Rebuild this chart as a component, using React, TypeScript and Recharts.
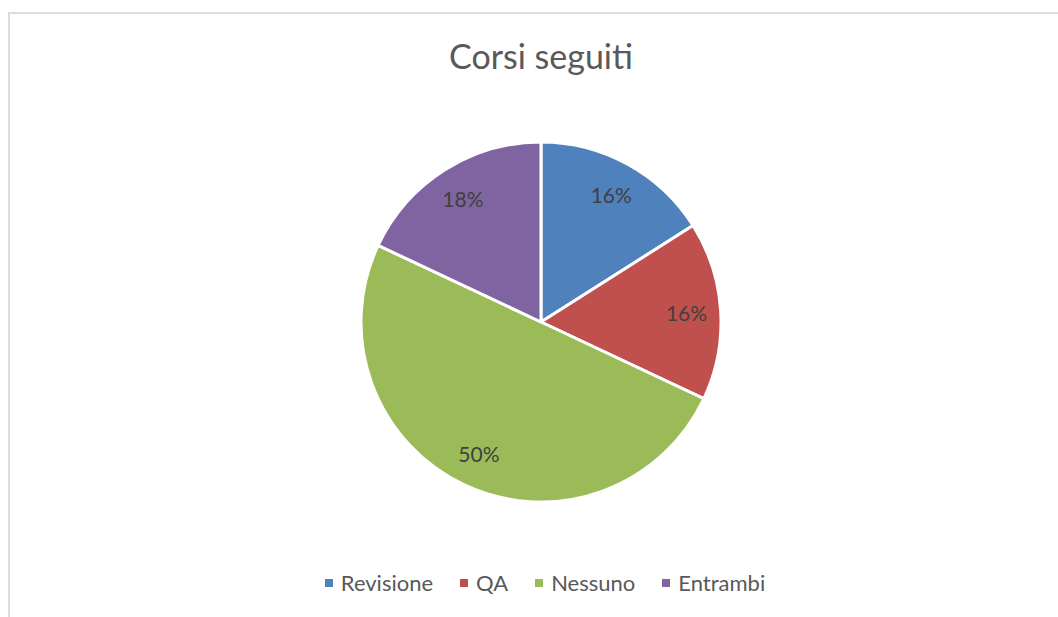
import { Cell, Legend, Pie, PieChart } from "recharts";

const categories = ["Revisione", "QA", "Nessuno", "Entrambi"];
const shares = [16, 16, 50, 18];
const colors = ["#4F81BD", "#C0504D", "#9BBB59", "#8064A2"];

const data = categories.map((name, i) => ({ name, value: shares[i] }));

const FONT = "Lato, 'Open Sans', sans-serif";
const RAD = Math.PI / 180;

function renderLabel(props: any) {
  const { cx, cy, midAngle, outerRadius, percent } = props;
  const r = outerRadius * 0.81;
  const x = cx + r * Math.cos(-midAngle * RAD);
  const y = cy + r * Math.sin(-midAngle * RAD);
  return (
    <text
      x={x}
      y={y}
      fill="#404040"
      fontSize={21}
      fontFamily={FONT}
      textAnchor="middle"
      dominantBaseline="central"
    >
      {`${Math.round(percent * 100)}%`}
    </text>
  );
}

function LegendContent() {
  return (
    <div
      style={{
        display: "flex",
        justifyContent: "center",
        alignItems: "center",
        gap: 27,
        fontFamily: FONT,
        fontSize: 22,
        color: "#595959",
      }}
    >
      {categories.map((c, i) => (
        <div key={c} style={{ display: "flex", alignItems: "center" }}>
          <span
            style={{
              width: 8,
              height: 8,
              background: colors[i],
              display: "inline-block",
              marginRight: 8,
            }}
          />
          <span>{c}</span>
        </div>
      ))}
    </div>
  );
}

export default function App() {
  return (
    <div
      style={{
        position: "absolute",
        left: 0,
        top: 0,
        width: 1058,
        height: 617,
        overflow: "hidden",
        background: "#fff",
      }}
    >
      <div
        style={{
          position: "absolute",
          left: 8,
          top: 12,
          width: 1200,
          height: 800,
          border: "2px solid #dcdcdc",
        }}
      />
      <div
        style={{
          position: "absolute",
          left: 0,
          top: 36,
          width: 1082,
          textAlign: "center",
          fontFamily: FONT,
          fontSize: 34,
          color: "#595959",
          lineHeight: "40px",
        }}
      >
        Corsi seguiti
      </div>
      <div style={{ position: "absolute", left: 0, top: 0 }}>
        <PieChart width={1058} height={617} margin={{ top: 0, right: 0, bottom: 0, left: 0 }}>
          <Pie
            data={data}
            dataKey="value"
            nameKey="name"
            cx={541}
            cy={322}
            outerRadius={180}
            startAngle={90}
            endAngle={-270}
            stroke="#fff"
            strokeWidth={3}
            label={renderLabel}
            labelLine={false}
            isAnimationActive={false}
          >
            {data.map((d, i) => (
              <Cell key={d.name} fill={colors[i]} />
            ))}
          </Pie>
          <Legend
            content={<LegendContent />}
            wrapperStyle={{ left: 0, top: 569, width: 1090 }}
          />
        </PieChart>
      </div>
    </div>
  );
}
